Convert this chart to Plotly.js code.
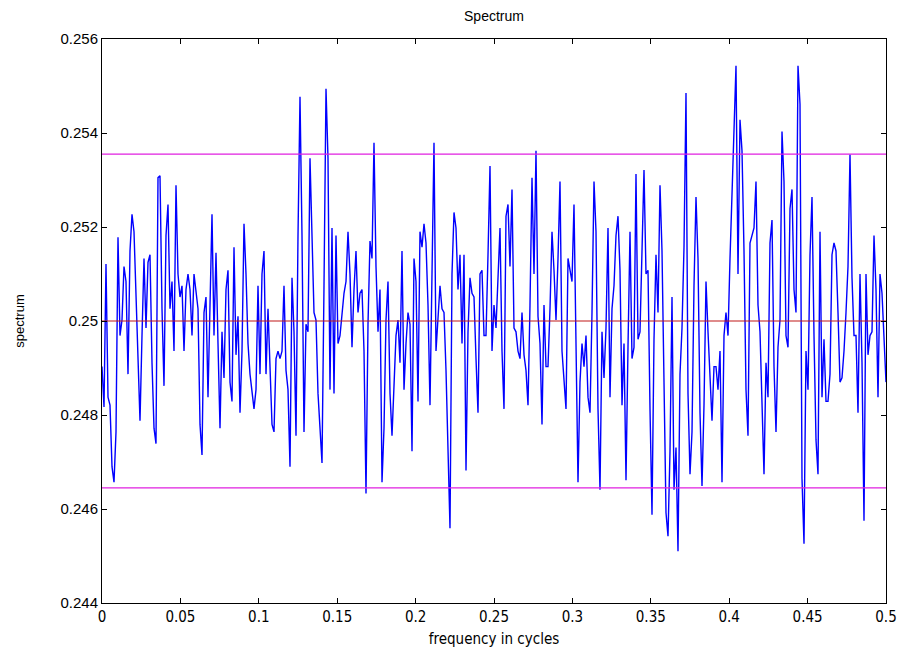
<!DOCTYPE html>
<html>
<head>
<meta charset="utf-8">
<script src="https://cdn.plot.ly/plotly-3.0.1.min.js"></script>
<style>html,body{margin:0;padding:0;background:#fff;}#chart{width:898px;height:654px;}</style>
</head>
<body>
<div id="chart"></div>
<script>
// Spectrum estimate values, on a uniform frequency grid 0 .. 0.5
const spectrum = [
0.24903,0.24817,0.25121,0.24838,0.24821,0.24690,0.24657,0.24764,0.25178,0.24969,
0.25002,0.25116,0.25084,0.24887,0.25149,0.25227,0.25190,0.25051,0.24887,0.24788,
0.24969,0.25133,0.24985,0.25125,0.25141,0.24911,0.24772,0.24739,0.25305,0.25309,
0.25026,0.24862,0.25182,0.25248,0.25026,0.25084,0.24936,0.25289,0.25100,0.25051,
0.25075,0.24936,0.25067,0.25100,0.25067,0.24969,0.25100,
0.25055,0.25026,0.24780,0.24715,0.25018,0.25051,0.24838,0.25075,0.25227,0.24969,
0.25145,0.24952,0.24772,0.24977,0.24879,0.25067,0.25108,0.24870,0.24829,0.25157,
0.24928,0.25010,0.24805,0.24936,0.25207,0.25100,0.24952,0.24887,0.24846,0.24813,
0.24854,0.25075,0.24887,0.25100,0.25149,0.24887,0.25026,0.24895,0.24780,0.24764,
0.24920,0.24936,0.24920,0.24936,0.25075,0.24895,0.24854,0.24690,0.25092,0.24977,
0.24756,0.25182,0.25477,0.25182,0.24764,0.24993,0.24977,0.25346,0.25166,0.25018,
0.25002,0.24846,0.24772,0.24698,0.25075,0.25494,0.25346,0.24854,0.25198,0.24846,
0.25182,0.24952,0.24969,0.25018,0.25059,0.25084,0.25190,0.25100,0.24944,0.25067,
0.25149,0.25018,0.25059,0.25067,0.24936,0.24633,0.24993,0.25170,0.25133,0.25379,
0.25116,0.24977,0.25067,0.24657,0.24772,0.25002,0.25084,0.24846,0.24756,0.24862,
0.24969,0.25002,0.24911,0.25149,0.24854,0.24952,0.25018,0.24993,0.24723,0.25133,
0.25084,0.24829,0.25190,0.25157,0.25207,0.25166,0.25034,0.24821,0.25116,0.25379,
0.24936,0.25002,0.25075,0.25026,0.25018,0.24895,0.24690,0.24559,0.25100,0.25231,
0.25198,0.25067,0.25141,0.24952,0.25141,0.24682,0.24977,0.25092,0.25059,0.25051,
0.24920,0.24805,0.25100,0.25108,0.24969,0.24969,0.25141,0.25330,0.24936,0.25034,
0.24985,0.25084,0.25198,0.24936,0.24813,0.25223,0.25248,0.25116,0.25280,0.24985,
0.24977,0.24936,0.24920,0.25018,0.24928,0.24895,0.24821,0.25034,0.25305,0.25100,
0.25362,0.25010,0.24952,0.24780,0.25034,0.24903,0.24903,0.25026,0.25190,0.25108,
0.25002,0.25133,0.25297,0.24936,0.24862,0.24813,0.25133,0.25108,0.25084,0.25248,
0.24920,0.24657,0.24870,0.24952,0.24903,0.24969,0.24838,0.24805,0.25018,0.25297,
0.25190,0.24813,0.24641,0.24977,0.24879,0.24985,0.25198,0.24838,0.25026,0.25075,
0.25182,0.25223,0.25108,0.24821,0.24952,0.24661,0.24944,0.25190,0.24920,0.24944,
0.25313,0.24961,0.24977,0.25157,0.25321,0.25100,0.25108,0.24813,0.24588,0.24961,
0.25141,0.25018,0.25289,0.25149,0.24854,0.24592,0.24542,0.24723,0.25051,0.24641,
0.24731,0.24510,0.24887,0.24985,0.25157,0.25485,0.24846,0.24674,0.24764,0.25075,
0.25264,0.25133,0.24805,0.24649,0.24821,0.25084,0.24977,0.24887,0.24788,0.24903,
0.24903,0.24854,0.24936,0.24657,0.24969,0.25018,0.24969,0.25133,0.25280,0.25428,
0.25543,0.25100,0.25428,0.25362,0.25149,0.24854,0.24756,0.25166,0.25182,0.25198,
0.25297,0.25034,0.24977,0.24805,0.24674,0.24911,0.24838,0.25166,0.25215,0.24903,
0.24764,0.24944,0.25002,0.25403,0.25297,0.24969,0.24944,0.25239,0.25280,0.25067,
0.25018,0.25543,0.25461,0.24665,0.24526,0.24936,0.24854,0.25141,0.25264,0.24969,
0.24747,0.24674,0.25190,0.24838,0.24961,0.24829,0.24829,0.24887,0.25141,0.25166,
0.25149,0.25018,0.24870,0.24879,0.24936,0.25018,0.25116,0.25354,0.25092,0.24969,
0.24969,0.24805,0.25100,0.24911,0.24575,0.25100,0.24928,0.24969,0.24977,0.25182,
0.25067,0.24838,0.25100,0.25059,0.24961,0.24870
];
const fMin = 0;
const fMax = 0.5;
// frequency grid (uniform, as in a periodogram)
const freq = spectrum.map((_, i) => fMin + i * (fMax - fMin) / (spectrum.length - 1));

const meanLevel = 0.25;
const upperBound = 0.25355;
const lowerBound = 0.24645;

const xTickVals = [0, 0.05, 0.1, 0.15, 0.2, 0.25, 0.3, 0.35, 0.4, 0.45, 0.5];
const xTickText = ["0", "0.05", "0.1", "0.15", "0.2", "0.25", "0.3", "0.35", "0.4", "0.45", "0.5"];
const yTickVals = [0.244, 0.246, 0.248, 0.25, 0.252, 0.254, 0.256];
const yTickText = ["0.244", "0.246", "0.248", "0.25", "0.252", "0.254", "0.256"];

const traces = [
  {x: freq, y: spectrum, type: 'scatter', mode: 'lines',
   line: {color: '#0000ff', width: 1.4}, hoverinfo: 'skip'},
  {x: [fMin, fMax], y: [upperBound, upperBound], type: 'scatter', mode: 'lines',
   line: {color: '#e020e0', width: 1.2}},
  {x: [fMin, fMax], y: [meanLevel, meanLevel], type: 'scatter', mode: 'lines',
   line: {color: '#c01818', width: 1.2}},
  {x: [fMin, fMax], y: [lowerBound, lowerBound], type: 'scatter', mode: 'lines',
   line: {color: '#e020e0', width: 1.2}}
];

const layout = {
  width: 898, height: 654,
  margin: {l: 102, r: 12, t: 39, b: 51, pad: 0},
  paper_bgcolor: '#ffffff', plot_bgcolor: '#ffffff',
  showlegend: false,
  title: {text: 'Spectrum', font: {family: 'Liberation Sans, Arial, sans-serif', size: 14, color: '#000'},
          x: 0.5, xanchor: 'center', xref: 'paper', y: 0.975, yref: 'container', yanchor: 'middle'},
  xaxis: {
    range: [fMin, fMax], tickvals: xTickVals, ticktext: xTickText,
    ticks: 'inside', ticklen: 5, tickcolor: '#000', tickwidth: 1,
    showline: true, linecolor: '#000', linewidth: 1, mirror: 'ticks',
    showgrid: false, zeroline: false,
    tickfont: {family: 'Liberation Sans Narrow, DejaVu Sans Condensed, Arial Narrow, sans-serif', size: 15, color: '#000'},
    title: {text: 'frequency in cycles', standoff: 8,
            font: {family: 'Liberation Sans Narrow, DejaVu Sans Condensed, Arial Narrow, sans-serif', size: 15, color: '#000'}}
  },
  yaxis: {
    range: [0.244, 0.256], tickvals: yTickVals, ticktext: yTickText,
    ticks: 'inside', ticklen: 5, tickcolor: '#000', tickwidth: 1,
    showline: true, linecolor: '#000', linewidth: 1, mirror: 'ticks',
    showgrid: false, zeroline: false,
    tickfont: {family: 'Liberation Sans, Arial, sans-serif', size: 15, color: '#000'},
    title: {text: 'spectrum', standoff: 32,
            font: {family: 'Liberation Sans, Arial, sans-serif', size: 13, color: '#000'}}
  }
};

Plotly.newPlot('chart', traces, layout, {staticPlot: true, displayModeBar: false});
</script>
</body>
</html>
